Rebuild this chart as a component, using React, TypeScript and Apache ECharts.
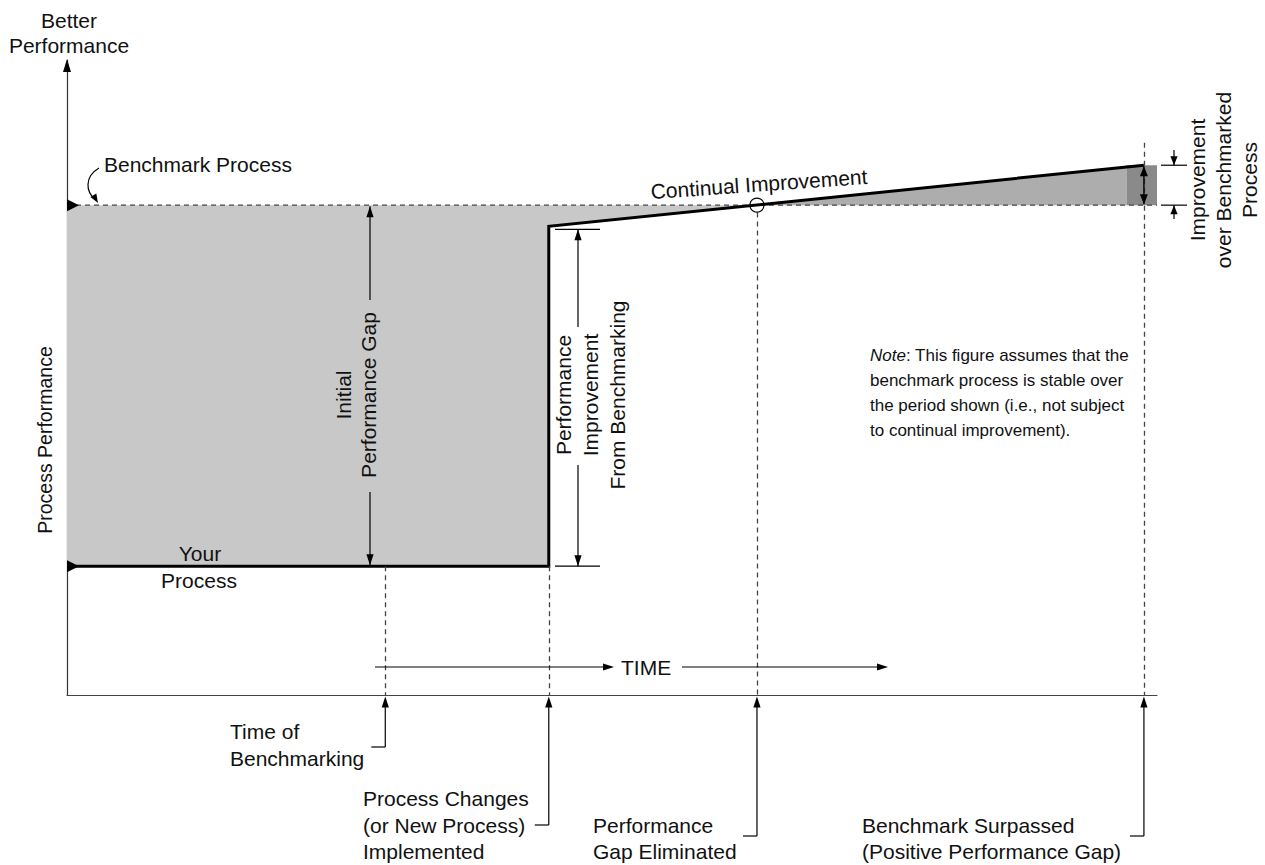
import React, { useEffect, useRef } from "react";
import * as echarts from "echarts";

// ---------------- data (time units 0–100, performance units 0–105) ----------------
const xRange = [0, 100];
const yRange = [0, 105];
const benchmarkLevel = 81;
const yourProcessX = [0, 44.2, 44.2, 98.8];
const yourProcessY = [21.3, 21.3, 77.5, 87.6];
const eventX = [29.2, 44.2, 63.3, 98.8];
const eventDashTop = [21.3, 21.3, 79.8, 91.3];
const eventLabels = [
  "Time of\nBenchmarking",
  "Process Changes\n(or New Process)\nImplemented",
  "Performance\nGap Eliminated",
  "Benchmark Surpassed\n(Positive Performance Gap)",
];
const gapRegion = [[0, 81], [0, 21.3], [44.2, 21.3], [44.2, 77.5], [63.3, 81]];
const positiveRegion = [[63.3, 81], [97.2, 87.3], [97.2, 81]];
const surpassBox = [[97.2, 81], [97.2, 87.6], [100, 87.6], [100, 81]];
const regionColors = ["#c8c8c8", "#adadad", "#8a8a8a"];
const regions = [gapRegion, positiveRegion, surpassBox];

const FONT = '"Liberation Sans", Arial, Helvetica, sans-serif';
const INK = "#111";

// layout of the annotations (pixels)
const labelLeft = [230, 363, 593, 862];
const labelMidY = [745, 825, 838.5, 838.5];
const bracketY = [747, 825, 836, 836];

function head(tx: number, ty: number, dx: number, dy: number, len = 11, hw = 3.6) {
  const n = Math.hypot(dx, dy);
  const ux = dx / n, uy = dy / n;
  const bx = tx - ux * len, by = ty - uy * len;
  const px = -uy * hw, py = ux * hw;
  return {
    type: "polygon",
    z: 20,
    silent: true,
    shape: { points: [[tx, ty], [bx + px, by + py], [bx - px, by - py]] },
    style: { fill: "#000" },
  };
}
function seg(x1: number, y1: number, x2: number, y2: number, w = 1.2, color = "#000") {
  return {
    type: "line",
    z: 20,
    silent: true,
    shape: { x1, y1, x2, y2 },
    style: { stroke: color, lineWidth: w },
  };
}
function txt(x: number, y: number, text: string, opts: any = {}) {
  return {
    type: "text",
    z: 21,
    silent: true,
    x,
    y,
    rotation: opts.rotation || 0,
    style: {
      text,
      fill: INK,
      fontSize: opts.size || 21,
      fontFamily: FONT,
      align: opts.align || "center",
      verticalAlign: opts.vAlign || "middle",
      lineHeight: opts.lineHeight || 26,
      rich: opts.rich,
    },
  };
}

function buildGraphics(P: (x: number, y: number) => number[]) {
  const els: any[] = [];
  const [x0, yB] = P(0, benchmarkLevel);
  const [, yP] = P(0, yourProcessY[0]);
  const [, yJ] = P(yourProcessX[2], yourProcessY[2]);
  const [xE, yE] = P(yourProcessX[3], yourProcessY[3]);
  const [xC, yC] = P(eventX[2], benchmarkLevel);
  const [, yA] = P(0, 0);
  const [, yTop] = P(0, yRange[1]);

  // y-axis arrow head
  els.push(head(x0, yTop - 1, 0, -1, 13, 4));
  // level markers on the y axis
  [yB, yP].forEach((y) =>
    els.push({
      type: "polygon",
      z: 20,
      silent: true,
      shape: { points: [[x0, y - 6], [x0, y + 6], [x0 + 12, y]] },
      style: { fill: "#000" },
    })
  );
  // crossing circle
  els.push({
    type: "circle",
    z: 20,
    silent: true,
    shape: { cx: xC, cy: yC, r: 7 },
    style: { fill: "none", stroke: "#000", lineWidth: 1.2 },
  });

  // Initial performance gap
  const gx = 370;
  els.push(seg(gx, yB + 1, gx, 300), seg(gx, 492, gx, yP - 1));
  els.push(head(gx, yB + 1, 0, -1), head(gx, yP - 1, 0, 1));
  els.push(txt(356, 395, "Initial\nPerformance Gap", { rotation: Math.PI / 2, lineHeight: 25 }));

  // Performance improvement from benchmarking
  const ix = 578;
  const yT = yJ + 3;
  els.push(seg(555, yT, 600, yT), seg(555, yP, 600, yP));
  els.push(seg(ix, yT, ix, 327), seg(ix, 465, ix, yP));
  els.push(head(ix, yT, 0, -1), head(ix, yP, 0, 1));
  els.push(
    txt(590, 395, "Performance\nImprovement\nFrom Benchmarking", { rotation: Math.PI / 2, lineHeight: 27 })
  );

  // Improvement over benchmarked process
  els.push(seg(xE, yE + 1, xE, yB - 1, 1.4));
  els.push(head(xE, yE + 1, 0, -1, 10, 4), head(xE, yB - 1, 0, 1, 10, 4));
  els.push(seg(1161, yE, 1187, yE), seg(1161, yB, 1187, yB));
  els.push(seg(1174, 150, 1174, yE), head(1174, yE, 0, 1, 9, 3.6));
  els.push(seg(1174, yB, 1174, 219), head(1174, yB, 0, -1, 9, 3.6));
  els.push(
    txt(1223, 180, "Improvement\nover Benchmarked\nProcess", { rotation: Math.PI / 2, lineHeight: 26 })
  );

  // Continual improvement
  els.push(txt(759, 184, "Continual Improvement", { rotation: 0.07 }));

  // Benchmark process label with curved arrow
  els.push(txt(104, 164, "Benchmark Process", { align: "left" }));
  els.push({
    type: "bezierCurve",
    z: 20,
    silent: true,
    shape: { x1: 99, y1: 168, cpx1: 84, cpy1: 177, cpx2: 86, cpy2: 192, x2: 95, y2: 199 },
    style: { stroke: "#000", lineWidth: 1.2, fill: "none" },
  });
  els.push(head(98, 203, 0.6, 1, 9, 3.4));

  // Your process
  els.push(txt(200, 553, "Your"), txt(199, 580, "Process"));

  // axis titles
  els.push(txt(69, 32.5, "Better\nPerformance", { lineHeight: 25 }));
  els.push(txt(45, 440, "Process Performance", { rotation: Math.PI / 2, size: 19.5 }));

  // note
  els.push(
    txt(
      870,
      392.5,
      "{i|Note}: This figure assumes that the\nbenchmark process is stable over\nthe period shown (i.e., not subject\nto continual improvement).",
      {
        align: "left",
        size: 17,
        lineHeight: 25,
        rich: { i: { fontStyle: "italic", fontSize: 17, fontFamily: FONT, fill: INK, lineHeight: 25 } },
      }
    )
  );

  // TIME arrow
  const ty = 667;
  els.push(seg(375, ty, 604, ty), head(614, ty, 1, 0, 11, 3.6));
  els.push(txt(621, ty, "TIME", { align: "left" }));
  els.push(seg(682, ty, 878, ty), head(888, ty, 1, 0, 11, 3.6));

  // event brackets and labels
  eventX.forEach((ev, i) => {
    const [ex] = P(ev, 0);
    const by = bracketY[i];
    els.push(seg(ex - 14, by, ex, by), seg(ex, by, ex, yA + 10));
    els.push(head(ex, yA + 1.5, 0, -1, 11, 3.6));
    els.push(txt(labelLeft[i], labelMidY[i], eventLabels[i], { align: "left", lineHeight: 26.5 }));
  });

  return els;
}

export default function App() {
  const ref = useRef<HTMLDivElement>(null);
  useEffect(() => {
    if (!ref.current) return;
    const chart = echarts.init(ref.current, null, { renderer: "svg" });
    const option: any = {
      animation: false,
      backgroundColor: "#fff",
      grid: { left: 67, right: 108, top: 60, bottom: 170 },
      xAxis: {
        type: "value",
        min: xRange[0],
        max: xRange[1],
        axisLine: { show: true, lineStyle: { color: "#444", width: 1.2 } },
        axisTick: { show: false },
        axisLabel: { show: false },
        splitLine: { show: false },
      },
      yAxis: {
        type: "value",
        min: yRange[0],
        max: yRange[1],
        axisLine: { show: true, lineStyle: { color: "#333", width: 1.2 } },
        axisTick: { show: false },
        axisLabel: { show: false },
        splitLine: { show: false },
      },
      series: [
        {
          type: "custom",
          name: "regions",
          coordinateSystem: "cartesian2d",
          silent: true,
          z: 1,
          data: regions.map((r) => r[0]),
          renderItem: (params: any, api: any) => {
            const r = regions[params.dataIndex];
            return {
              type: "polygon",
              shape: { points: r.map((p) => api.coord(p)) },
              style: { fill: regionColors[params.dataIndex], stroke: "none" },
            };
          },
        },
        {
          type: "line",
          name: "Benchmark Process",
          data: [
            [xRange[0], benchmarkLevel],
            [xRange[1], benchmarkLevel],
          ],
          symbol: "none",
          silent: true,
          z: 2,
          lineStyle: { color: "#444", width: 1.3, type: [5, 4] },
          markLine: {
            silent: true,
            symbol: ["none", "none"],
            label: { show: false },
            lineStyle: { color: "#444", width: 1.3, type: [5, 4] },
            data: eventX.map((x, i) => [{ coord: [x, eventDashTop[i]] }, { coord: [x, 0] }]),
          },
        },
        {
          type: "line",
          name: "Your Process",
          data: yourProcessX.map((x, i) => [x, yourProcessY[i]]),
          symbol: "none",
          silent: true,
          z: 3,
          lineStyle: { color: "#000", width: 3, join: "miter" },
        },
      ],
    };
    chart.setOption(option);
    const P = (x: number, y: number) => chart.convertToPixel({ gridIndex: 0 }, [x, y]) as number[];
    chart.setOption({ graphic: { elements: buildGraphics(P) } });
    return () => chart.dispose();
  }, []);
  return (
    <div
      ref={ref}
      style={{ position: "fixed", left: 0, top: 0, width: 1265, height: 865, background: "#fff" }}
    />
  );
}
